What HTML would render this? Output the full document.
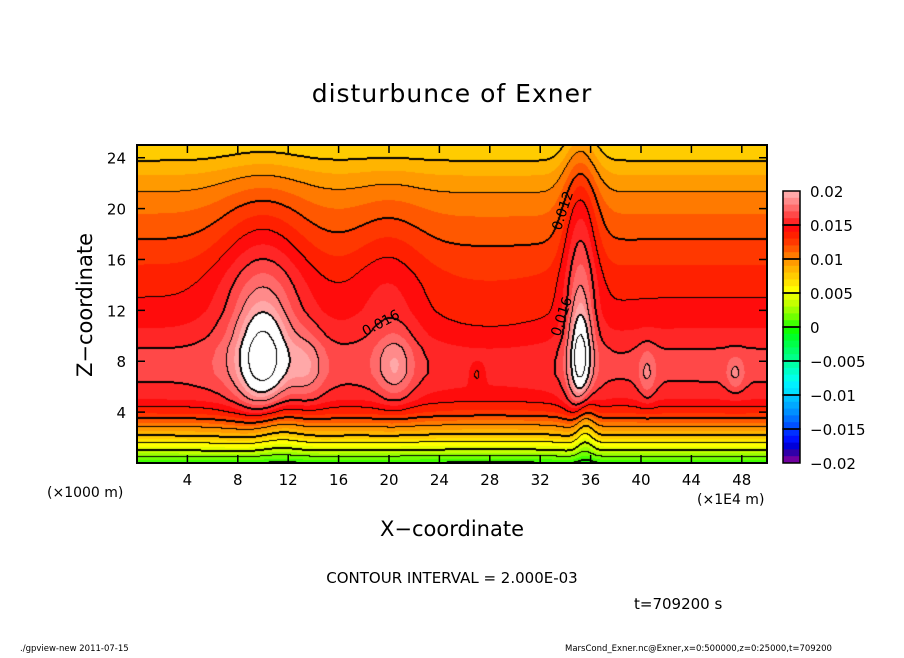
<!DOCTYPE html>
<html><head><meta charset="utf-8">
<style>
body{margin:0;background:#fff;width:904px;height:654px;overflow:hidden;font-family:"DejaVu Sans","Liberation Sans",sans-serif}
svg text{font-family:"DejaVu Sans","Liberation Sans",sans-serif;fill:#000}
</style></head><body>
<svg id="chart" width="904" height="654" xmlns="http://www.w3.org/2000/svg">
<text x="452" y="102" font-size="25" text-anchor="middle" letter-spacing="1">disturbunce of Exner</text>
<foreignObject x="137" y="145" width="630" height="318">
<canvas id="cv" width="630" height="318" style="display:block"></canvas>
</foreignObject>
<rect x="137" y="145" width="630" height="318" fill="none" stroke="#000" stroke-width="2"/>
<g id="ticks"></g>
<g id="labels"></g>
<text transform="translate(92,305) rotate(-90)" font-size="21" text-anchor="middle">Z−coordinate</text>
<text x="452" y="536" font-size="21" text-anchor="middle">X−coordinate</text>
<text x="47" y="497" font-size="14">(×1000 m)</text>
<text x="697" y="504" font-size="14">(×1E4 m)</text>
<text x="452" y="583" font-size="15" text-anchor="middle">CONTOUR INTERVAL = 2.000E-03</text>
<text x="634" y="609" font-size="15">t=709200 s</text>
<text x="20" y="651" font-size="8.5">./gpview-new   2011-07-15</text>
<text x="565" y="651" font-size="8.5">MarsCond_Exner.nc@Exner,x=0:500000,z=0:25000,t=709200</text>
<g id="cbar"></g>
</svg>
<script>
const xTicks=[4,8,12,16,20,24,28,32,36,40,44,48];
const zTicks=[4,8,12,16,20,24];
const cbLabels=["0.02","0.015","0.01","0.005","0","−0.005","−0.01","−0.015","−0.02"];
const zProfile=[0.0,0.004,0.0075,0.0105,0.0133,0.015,0.0158,0.0163,0.0163,0.016,0.0153,0.0148,0.0143,0.014,0.0137,0.0133,0.0128,0.0123,0.0118,0.0113,0.0108,0.0102,0.0095,0.0087,0.0078,0.007];
const bumpX=[10,10,13.5,20.5,20,35.2,35.2,40.5,47.5,28,35.5,11,27];
const bumpZ=[8,13,7.5,7.5,14,8,17,7,7,9,3,3,7];
const bumpSX=[1.3,2.5,1,1,2,0.6,1,0.5,0.5,5,0.6,1.5,0.4];
const bumpSZ=[3,6,2,2,5,3,8,1.5,1,5,2,2,0.6];
const bumpA=[0.005,0.0035,0.002,0.0025,0.0015,0.0055,0.004,0.002,0.002,-0.001,-0.004,-0.002,-0.0015];
const allColors=["#ffa8a8","#ff8a8a","#ff6a6a","#ff4848","#ff2626",
"#ff0c0c","#ff2000","#ff3800","#ff5800","#ff7a00",
"#ff9a00","#ffb400","#ffcc00","#ffe400","#ffff00",
"#e4ff00","#c4ff00","#9cff00","#70ff00","#40ff00",
"#10ff00","#00ff28","#00ff48","#00ff68","#00ff88",
"#00ffa8","#00ffc8","#00ffe8","#00f0ff","#00e0ff",
"#00c0ff","#00a8ff","#0090ff","#0070ff","#0050ff",
"#0030ff","#0010ff","#0000d8","#3000a8","#7000a0"];
const X0=137,X1=767,Y0=145,Y1=463,XMAX=50,ZMAX=25;
const sx=v=>X0+(v/XMAX)*(X1-X0), sz=v=>Y1-(v/ZMAX)*(Y1-Y0);
const NS="http://www.w3.org/2000/svg";
function el(t,a,p){const e=document.createElementNS(NS,t);for(const k in a)e.setAttribute(k,a[k]);p.appendChild(e);return e;}
function field(x,z){
  const zi=Math.max(0,Math.min(24.999,z)),i=Math.floor(zi),f=zi-i;
  let v=zProfile[i]*(1-f)+zProfile[i+1]*f;
  for(let k=0;k<bumpX.length;k++){const dx=(x-bumpX[k])/bumpSX[k],dz=(z-bumpZ[k])/bumpSZ[k];v+=bumpA[k]*Math.exp(-0.5*(dx*dx+dz*dz));}
  return v;
}
function colorFor(v){if(v>=0.02)return[255,255,255];let idx=Math.floor((0.02-v)/0.001);idx=Math.max(0,Math.min(39,idx));const h=allColors[idx];return[parseInt(h.substr(1,2),16),parseInt(h.substr(3,2),16),parseInt(h.substr(5,2),16)];}
const cv=document.getElementById('cv'),ctx=cv.getContext('2d'),W=630,H=318;
const img=ctx.createImageData(W,H),vals=new Float32Array(W*H);
for(let j=0;j<H;j++)for(let i=0;i<W;i++){vals[j*W+i]=field((i+0.5)/W*XMAX,(H-j-0.5)/H*ZMAX);}
for(let j=0;j<H;j++)for(let i=0;i<W;i++){const c=colorFor(vals[j*W+i]),p=(j*W+i)*4;img.data[p]=c[0];img.data[p+1]=c[1];img.data[p+2]=c[2];img.data[p+3]=255;}
const lv=v=>Math.floor(v/0.002+1e-9);
function setBlack(i,j){if(i<0||j<0||i>=W||j>=H)return;const p=(j*W+i)*4;img.data[p]=img.data[p+1]=img.data[p+2]=0;}
for(let j=0;j<H;j++)for(let i=0;i<W;i++){
  const a=lv(vals[j*W+i]);
  const nb=[[i+1,j],[i,j+1]];
  for(const [ni,nj] of nb){if(ni>=W||nj>=H)continue;const b=lv(vals[nj*W+ni]);if(a!==b){const L=Math.max(a,b);setBlack(i,j);if(L%2===0){setBlack(ni,nj);}}}
}
ctx.putImageData(img,0,0);
const tg=document.getElementById('ticks'),lg=document.getElementById('labels');
xTicks.forEach(t=>{const x=sx(t);
  const a=el('line',{x1:x,x2:x,y1:Y1,y2:Y1-8,stroke:'#000','stroke-width':1.5},tg);
  const b=el('line',{x1:x,x2:x,y1:Y0,y2:Y0+8,stroke:'#000','stroke-width':1.5},tg);
  const tx=el('text',{x:x,y:485,'font-size':15,'text-anchor':'middle'},lg);tx.textContent=t;});
zTicks.forEach(t=>{const y=sz(t);
  const a=el('line',{x1:X0,x2:X0+8,y1:y,y2:y,stroke:'#000','stroke-width':1.5},tg);
  const b=el('line',{x1:X1,x2:X1-8,y1:y,y2:y,stroke:'#000','stroke-width':1.5},tg);
  const tx=el('text',{x:126,y:y+6,'font-size':15,'text-anchor':'end'},lg);tx.textContent=t;});
[[383,327,-28,"0.016"],[566,318,-72,"0.016"],[567,212,-72,"0.012"]].forEach(c=>{
  const t=el('text',{x:c[0],y:c[1],'font-size':14,'text-anchor':'middle',transform:`rotate(${c[2]},${c[0]},${c[1]})`},lg);t.textContent=c[3];
  
  });
const cb=document.getElementById('cbar'),CX=783,CW=17,CT=191,CB=463,bh=(CB-CT)/40;
allColors.forEach((c,k)=>{const r=el('rect',{x:CX,y:CT+k*bh,width:CW,height:bh+0.5,fill:c},cb);});
for(let g=0;g<8;g++){const r=el('rect',{x:CX,y:CT+g*5*bh,width:CW,height:5*bh,fill:'none',stroke:'#000','stroke-width':1.5},cb);}
cbLabels.forEach((s,k)=>{const t=el('text',{x:810,y:CT+k*5*bh+6,'font-size':15},cb);t.textContent=s;});
</script>
</body></html>
